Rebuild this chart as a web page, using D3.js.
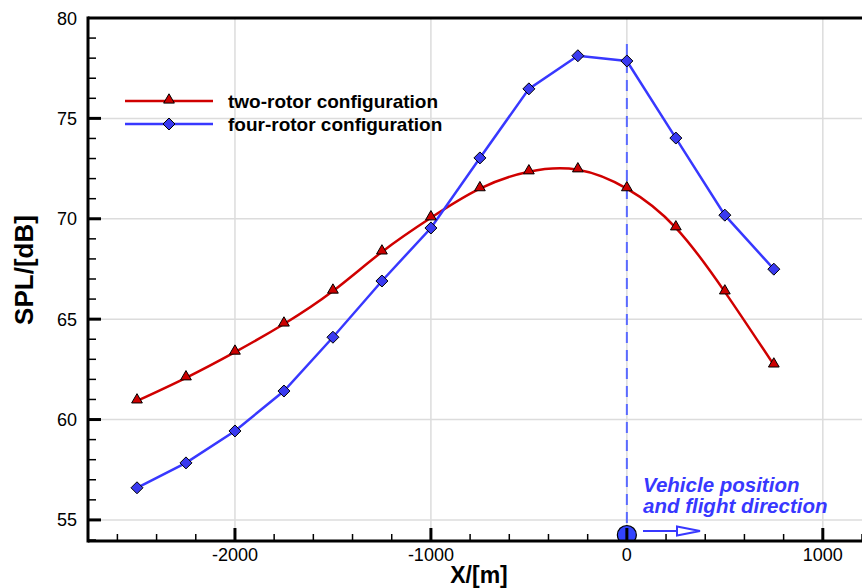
<!DOCTYPE html>
<html><head><meta charset="utf-8">
<script src="https://cdn.jsdelivr.net/npm/d3@7"></script>
<style>body{margin:0;background:#fff}svg{display:block}text{font-family:"Liberation Sans",Arial,Helvetica,sans-serif}</style>
</head><body>
<svg id="c" width="862" height="588"></svg>
<script>
const xValues = [-2500,-2250,-2000,-1750,-1500,-1250,-1000,-750,-500,-250,0,250,500,750];
const twoRotor = [60.93,62.08,63.36,64.76,66.40,68.35,70.05,71.50,72.34,72.44,71.50,69.55,66.36,62.72];
const fourRotor = [56.60,57.84,59.43,61.42,64.10,66.90,69.54,73.03,76.47,78.12,77.86,74.02,70.18,67.49];
const xMajorTicks = [-2000,-1000,0,1000];
const yMajorTicks = [55,60,65,70,75,80];
const seriesNames = ["two-rotor configuration","four-rotor configuration"];
const annotation = ["Vehicle position","and flight direction"];

const svg = d3.select("#c");
const L=88, T=18, R=862, B=541;
const x = d3.scaleLinear().domain([-2750,1200]).range([L,R]);
const y = d3.scaleLinear().domain([53.95,80]).range([B,T]);

// grid
const g = svg.append("g");
g.selectAll(".gv").data(xMajorTicks).join("line")
  .attr("x1",d=>x(d)).attr("x2",d=>x(d)).attr("y1",T).attr("y2",B)
  .attr("stroke","#dcdcdc").attr("stroke-width",1.5);
g.selectAll(".gh").data(yMajorTicks.filter(d=>d<80)).join("line")
  .attr("x1",L).attr("x2",R).attr("y1",d=>y(d)).attr("y2",d=>y(d))
  .attr("stroke","#dcdcdc").attr("stroke-width",1.5);

// dashed vehicle line
svg.append("line").attr("x1",x(0)).attr("x2",x(0)).attr("y1",44).attr("y2",B)
  .attr("stroke","#5a6aff").attr("stroke-width",2).attr("stroke-dasharray","11,7");

// series
const red="#d00000", blue="#3838ff";
const redLine = d3.line().x((d,i)=>x(xValues[i])).y(d=>y(d)).curve(d3.curveNatural);
const blueLine = d3.line().x((d,i)=>x(xValues[i])).y(d=>y(d));
svg.append("path").attr("d",redLine(twoRotor)).attr("fill","none").attr("stroke",red).attr("stroke-width",2.5);
svg.append("path").attr("d",blueLine(fourRotor)).attr("fill","none").attr("stroke",blue).attr("stroke-width",2.5);

const tri = d3.symbol().type(d3.symbolTriangle).size(50);
const diaPath = "M0,-6L6,0L0,6L-6,0Z";
svg.selectAll(".tr").data(twoRotor).join("path")
  .attr("d",tri).attr("transform",(d,i)=>`translate(${x(xValues[i])},${y(d)-1})`)
  .attr("fill","#cc0000").attr("stroke","#000").attr("stroke-width",1);
svg.selectAll(".dm").data(fourRotor).join("path")
  .attr("d",diaPath).attr("transform",(d,i)=>`translate(${x(xValues[i])},${y(d)})`)
  .attr("fill","#3a3af0").attr("stroke","#000").attr("stroke-width",1);

// vehicle circle (clipped at axis)
svg.append("clipPath").attr("id","cc").append("rect").attr("x",0).attr("y",0).attr("width",862).attr("height",B);
svg.append("circle").attr("cx",x(0)).attr("cy",535).attr("r",9.5).attr("clip-path","url(#cc)")
  .attr("fill","#3344ff").attr("stroke","#000").attr("stroke-width",1.2);
// arrow
svg.append("line").attr("x1",643).attr("x2",677).attr("y1",531).attr("y2",531).attr("stroke","#3838ff").attr("stroke-width",2);
svg.append("path").attr("d","M677,526.5L700,531L677,535.5Z").attr("fill","none").attr("stroke","#3838ff").attr("stroke-width",2);

// annotation text
svg.selectAll(".an").data(annotation).join("text")
  .attr("x",643).attr("y",(d,i)=>492+i*21).text(d=>d)
  .attr("font-size",20.5).attr("font-weight","bold").attr("font-style","italic").attr("fill","#3838ff");

// axes frame
const ax = svg.append("g").attr("stroke","#000");
ax.append("line").attr("x1",L).attr("x2",R).attr("y1",T).attr("y2",T).attr("stroke-width",3);
ax.append("line").attr("x1",L).attr("x2",L).attr("y1",T-1.5).attr("y2",B+1.5).attr("stroke-width",3);
ax.append("line").attr("x1",L).attr("x2",R).attr("y1",B).attr("y2",B).attr("stroke-width",3);

// x ticks
const xMinor = d3.range(-2600,1201,200).filter(d=>!xMajorTicks.includes(d));
ax.selectAll(".xm").data(xMinor).join("line").attr("x1",d=>x(d)).attr("x2",d=>x(d)).attr("y1",B).attr("y2",B-7).attr("stroke-width",1.5);
ax.selectAll(".xM").data(xMajorTicks).join("line").attr("x1",d=>x(d)).attr("x2",d=>x(d)).attr("y1",B).attr("y2",B-13).attr("stroke-width",3);
svg.selectAll(".xl").data(xMajorTicks).join("text").attr("x",d=>x(d)).attr("y",561).attr("text-anchor","middle")
  .attr("font-size",18).text(d=>d);

// y ticks
const yMinor = d3.range(54,80,1).filter(d=>!yMajorTicks.includes(d));
ax.selectAll(".ym").data(yMinor).join("line").attr("x1",L).attr("x2",L+8).attr("y1",d=>y(d)).attr("y2",d=>y(d)).attr("stroke-width",1.5);
ax.selectAll(".yM").data(yMajorTicks.filter(d=>d<80)).join("line").attr("x1",L).attr("x2",L+13).attr("y1",d=>y(d)).attr("y2",d=>y(d)).attr("stroke-width",3);
svg.selectAll(".yl").data(yMajorTicks).join("text").attr("x",77).attr("y",d=>y(d)+6.5).attr("text-anchor","end")
  .attr("font-size",18).text(d=>d);

// axis titles
svg.append("text").attr("x",479).attr("y",583).attr("text-anchor","middle").attr("font-size",23).attr("font-weight","bold").text("X/[m]");
svg.append("text").attr("transform","translate(33,270) rotate(-90)").attr("text-anchor","middle").attr("font-size",26).attr("font-weight","bold").text("SPL/[dB]");

// legend
const leg = svg.append("g");
const legY=[101,124], cols=[red,blue];
seriesNames.forEach((n,i)=>{
  leg.append("line").attr("x1",125).attr("x2",213).attr("y1",legY[i]).attr("y2",legY[i]).attr("stroke",cols[i]).attr("stroke-width",2.5);
  leg.append("path").attr("d",i===0?tri():diaPath).attr("transform",`translate(169,${legY[i]-(i===0?1:0)})`)
    .attr("fill",i===0?"#cc0000":"#3a3af0").attr("stroke","#000").attr("stroke-width",1);
  leg.append("text").attr("x",228).attr("y",legY[i]+6.5).attr("font-size",19).attr("font-weight","bold").text(n);
});
</script>
</body></html>
